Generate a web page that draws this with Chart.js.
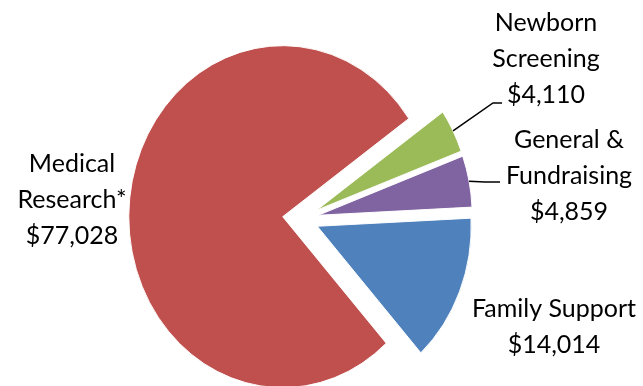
<!DOCTYPE html>
<html>
<head>
<meta charset="utf-8">
<script src="https://cdn.jsdelivr.net/npm/chart.js@4"></script>
<style>
  html, body { margin: 0; padding: 0; background: #fff; }
  #wrap { width: 643px; height: 386px; }
</style>
</head>
<body>
<div id="wrap"><canvas id="pieChart" width="643" height="386"></canvas></div>
<script>
// data, in drawing order (clockwise from the rotation angle)
const categories = ['Newborn Screening', 'General & Fundraising', 'Family Support', 'Medical Research*'];
const amounts = [4110, 4859, 14014, 77028];
const labelLines = [
  ['Newborn', 'Screening'],
  ['General &', 'Fundraising'],
  ['Family Support'],
  ['Medical', 'Research*']
];
const colors = ['#9BBB59', '#8064A2', '#4F81BD', '#C0504D'];

// how far each slice is pulled out of the pie, px
const explode = [19, 19, 19, 21];

// label layout (centre x, first baseline) and leader lines
const labelPos = [[546, 31], [569, 148], [554, 317], [72, 172]];
const leaders = [[[493, 103], [502, 103]], [[485, 182], [500, 182]], null, null];
const squashX = 0.9;
const lineGap = 36;

const money = v => '$' + v.toLocaleString('en-US');

// pull slices out along their mid angle
const explodePlugin = {
  id: 'explode',
  afterDatasetsUpdate(chart) {
    chart.getDatasetMeta(0).data.forEach((a, i) => {
      const mid = (a.startAngle + a.endAngle) / 2;
      a.x += Math.cos(mid) * explode[i];
      a.y += Math.sin(mid) * explode[i];
    });
  }
};

// the original pie is a bit narrower than it is tall
const squashPlugin = {
  id: 'squash',
  beforeDatasetsDraw(chart) {
    const cx = (chart.chartArea.left + chart.chartArea.right) / 2;
    const ctx = chart.ctx;
    ctx.save();
    ctx.translate(cx, 0);
    ctx.scale(squashX, 1);
    ctx.translate(-cx, 0);
  },
  afterDatasetsDraw(chart) {
    chart.ctx.restore();
  }
};

const labelPlugin = {
  id: 'labels',
  afterDraw(chart) {
    const ctx = chart.ctx;
    const cx = (chart.chartArea.left + chart.chartArea.right) / 2;
    const arcs = chart.getDatasetMeta(0).data;
    ctx.save();
    ctx.strokeStyle = '#000';
    ctx.lineWidth = 1.5;
    arcs.forEach((a, i) => {
      if (!leaders[i]) return;
      const mid = (a.startAngle + a.endAngle) / 2;
      const px = cx + squashX * (a.x + Math.cos(mid) * a.outerRadius - cx);
      const py = a.y + Math.sin(mid) * a.outerRadius;
      ctx.beginPath();
      ctx.moveTo(px, py);
      leaders[i].forEach(p => ctx.lineTo(p[0], p[1]));
      ctx.stroke();
    });
    ctx.fillStyle = '#000';
    ctx.font = '25px Lato';
    ctx.textAlign = 'center';
    ctx.textBaseline = 'alphabetic';
    categories.forEach((c, i) => {
      const lines = labelLines[i].concat([money(amounts[i])]);
      lines.forEach((s, k) => ctx.fillText(s, labelPos[i][0], labelPos[i][1] + k * lineGap));
    });
    ctx.restore();
  }
};

new Chart(document.getElementById('pieChart').getContext('2d'), {
  type: 'pie',
  data: {
    labels: categories,
    datasets: [{
      data: amounts,
      backgroundColor: colors,
      borderColor: '#fff',
      borderWidth: 1,
      clip: false
    }]
  },
  options: {
    responsive: false,
    animation: false,
    rotation: 55,
    radius: 171,
    layout: { padding: { left: 0, right: 40, top: 52, bottom: 0 } },
    plugins: {
      legend: { display: false },
      tooltip: { enabled: false }
    }
  },
  plugins: [explodePlugin, squashPlugin, labelPlugin]
});
</script>
</body>
</html>
